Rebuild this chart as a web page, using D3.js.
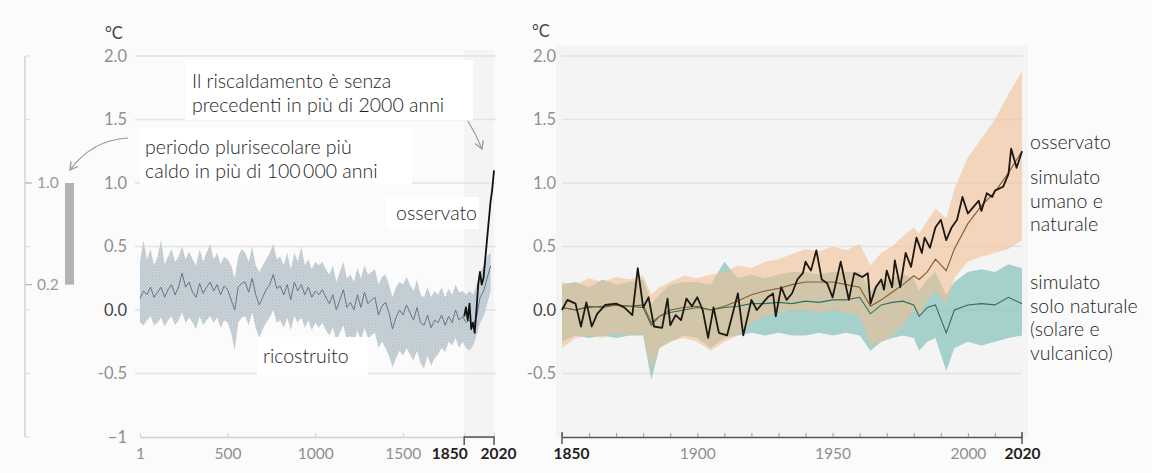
<!DOCTYPE html>
<html>
<head>
<meta charset="utf-8">
<script src="https://cdn.jsdelivr.net/npm/d3@7"></script>
<style>
  body { margin: 0; background: #fbfbfb; }
  text { font-family: Lato, "Open Sans", sans-serif; }
</style>
</head>
<body>
<svg id="chart" width="1152" height="473"></svg>
<script>
// ---- data: left panel (years 1-2020) ----
const reconYears = d3.range(1, 2002, 20);
const recon = [
  0.09, 0.15, 0.12, 0.18, 0.10, 0.14, 0.18, 0.10, 0.16, 0.20,
  0.12, 0.18, 0.29, 0.18, 0.22, 0.14, 0.10, 0.21, 0.13, 0.18,
  0.22, 0.15, 0.20, 0.12, 0.19, 0.16, 0.08, 0.00, 0.18, 0.21,
  0.22, 0.14, 0.25, 0.12, 0.04, 0.10, 0.16, 0.20, 0.28, 0.17,
  0.19, 0.12, 0.20, 0.08, 0.22, 0.15, 0.20, 0.12, 0.18, 0.10,
  0.15, 0.12, 0.16, 0.10, 0.05, 0.12, 0.00, 0.08, 0.16, 0.02,
  0.06, 0.00, 0.12, 0.02, 0.14, 0.05, 0.08, 0.10, -0.04, 0.03,
  0.06, -0.02, -0.15, -0.06, 0.00, -0.04, 0.04, -0.02, -0.08, 0.02,
  -0.10, -0.12, -0.04, -0.14, -0.08, -0.10, -0.04, -0.12, -0.05, -0.10,
  0.00, -0.08, -0.05, -0.10, -0.08, -0.12, -0.05, 0.10, 0.15, 0.25,
  0.35
];
const reconHi = [
  0.38, 0.55, 0.40, 0.48, 0.35, 0.42, 0.55, 0.36, 0.42, 0.48,
  0.38, 0.42, 0.50, 0.40, 0.46, 0.40, 0.35, 0.48, 0.38, 0.45,
  0.52, 0.40, 0.45, 0.36, 0.42, 0.40, 0.35, 0.25, 0.42, 0.48,
  0.45, 0.38, 0.50, 0.35, 0.30, 0.35, 0.40, 0.45, 0.52, 0.40,
  0.42, 0.35, 0.45, 0.32, 0.45, 0.38, 0.50, 0.35, 0.40, 0.32,
  0.38, 0.35, 0.38, 0.32, 0.28, 0.35, 0.22, 0.30, 0.38, 0.25,
  0.28, 0.22, 0.33, 0.25, 0.35, 0.28, 0.30, 0.32, 0.20, 0.26,
  0.28, 0.20, 0.10, 0.18, 0.22, 0.20, 0.26, 0.20, 0.15, 0.24,
  0.12, 0.10, 0.18, 0.10, 0.15, 0.12, 0.18, 0.10, 0.17, 0.12,
  0.20, 0.14, 0.15, 0.12, 0.15, 0.12, 0.20, 0.30, 0.35, 0.42,
  0.45
];
const reconLo = [
  -0.10, -0.12, -0.08, -0.05, -0.12, -0.10, -0.06, -0.13, -0.08, -0.05,
  -0.12, -0.08, -0.02, -0.10, -0.06, -0.10, -0.15, -0.05, -0.12, -0.08,
  -0.05, -0.10, -0.06, -0.14, -0.08, -0.10, -0.18, -0.32, -0.10, -0.06,
  -0.05, -0.12, -0.02, -0.14, -0.22, -0.15, -0.10, -0.06, 0.00, -0.10,
  -0.08, -0.14, -0.06, -0.16, -0.05, -0.10, -0.06, -0.14, -0.08, -0.16,
  -0.10, -0.14, -0.10, -0.16, -0.20, -0.14, -0.24, -0.18, -0.12, -0.24,
  -0.20, -0.26, -0.16, -0.24, -0.14, -0.22, -0.20, -0.18, -0.30, -0.25,
  -0.30, -0.36, -0.45, -0.38, -0.32, -0.36, -0.30, -0.35, -0.40, -0.32,
  -0.42, -0.46, -0.36, -0.44, -0.38, -0.35, -0.30, -0.33, -0.25, -0.28,
  -0.22, -0.30, -0.25, -0.30, -0.32, -0.28, -0.20, -0.10, -0.05, 0.05,
  0.15
];
const obsLYears = [1850, 1860, 1870, 1880, 1890, 1900, 1910, 1920, 1930, 1940, 1950, 1960, 1970, 1980, 1990, 2000, 2010, 2020];
const obsLVals  = [-0.05, 0.02, -0.08, 0.05, -0.15, -0.10, -0.18, 0.00, 0.20, 0.30, 0.20, 0.25, 0.40, 0.55, 0.70, 0.85, 0.95, 1.10];
const leftTicks = [1, 500, 1000, 1500, 1850, 2020];
const yTicks = [-1, -0.5, 0, 0.5, 1, 1.5, 2];
const yLabels = ["\u22121", "-0.5", "0.0", "0.5", "1.0", "1.5", "2.0"];
const barRange = [0.2, 1.0];
const barLabels = ["0.2", "1.0"];

// ---- data: right panel (1850-2020) ----
const obsYears = [1850, 1852, 1855, 1857, 1859, 1861, 1863, 1866, 1870, 1873, 1876, 1878, 1880, 1882, 1884, 1887, 1889, 1890, 1892, 1894,
  1896, 1898, 1900, 1902, 1904, 1906, 1908, 1911, 1915, 1917, 1920, 1922, 1926, 1928, 1929, 1931, 1933, 1935, 1937, 1939,
  1940, 1942, 1944, 1946, 1948, 1950, 1953, 1956, 1958, 1961, 1963, 1964, 1966, 1968, 1969, 1970, 1972, 1973, 1975, 1977,
  1979, 1981, 1983, 1984, 1986, 1988, 1990, 1992, 1994, 1996, 1998, 2000, 2002, 2004, 2005, 2007, 2009, 2010, 2013, 2015,
  2016, 2018, 2020];
const obsVals = [0.00, 0.08, 0.05, -0.13, 0.06, -0.13, -0.03, 0.04, 0.05, 0.02, -0.04, 0.33, 0.02, 0.10, -0.13, -0.14, 0.09, -0.12, -0.04, -0.08,
  0.09, 0.03, 0.10, 0.00, -0.22, 0.02, -0.18, -0.20, 0.13, -0.20, 0.08, 0.00, 0.10, 0.13, -0.05, 0.18, 0.08, 0.13, 0.24, 0.29,
  0.38, 0.31, 0.47, 0.24, 0.21, 0.10, 0.38, 0.08, 0.29, 0.26, 0.29, 0.05, 0.18, 0.24, 0.16, 0.31, 0.18, 0.39, 0.18, 0.45,
  0.34, 0.57, 0.45, 0.57, 0.49, 0.65, 0.71, 0.55, 0.65, 0.71, 0.89, 0.76, 0.81, 0.86, 0.78, 0.92, 0.89, 0.94, 0.97, 1.07,
  1.27, 1.12, 1.25];
const bandYears = [1850, 1855, 1860, 1865, 1870, 1875, 1880, 1883, 1886,
  1890, 1895, 1900, 1905, 1910, 1915, 1920, 1925, 1930, 1935, 1940, 1945, 1950, 1955, 1960,
  1964, 1968, 1972, 1976, 1980, 1982, 1985, 1988, 1992, 1995,
  2000, 2005, 2010, 2015, 2020];
const hnUpper = [0.22, 0.20, 0.25, 0.22, 0.26, 0.24, 0.27, 0.12, 0.18,
  0.22, 0.27, 0.25, 0.28, 0.30, 0.35, 0.33, 0.38, 0.40, 0.44, 0.48, 0.46, 0.50, 0.47, 0.52,
  0.35, 0.45, 0.50, 0.58, 0.65, 0.60, 0.70, 0.80, 0.72, 0.95,
  1.20, 1.35, 1.50, 1.70, 1.88];
const hnLower = [-0.30, -0.22, -0.20, -0.22, -0.18, -0.20, -0.18, -0.45, -0.30,
  -0.25, -0.22, -0.25, -0.32, -0.25, -0.20, -0.10, -0.05, -0.02, 0.00, 0.00, -0.02, 0.00, -0.02, -0.05,
  -0.28, -0.25, -0.20, -0.12, 0.00, -0.05, 0.08, 0.15, 0.05, 0.25,
  0.38, 0.42, 0.45, 0.48, 0.55];
const natUpper = [0.20, 0.22, 0.18, 0.24, 0.20, 0.22, 0.24, 0.05, 0.12,
  0.20, 0.22, 0.22, 0.20, 0.38, 0.25, 0.28, 0.25, 0.28, 0.30, 0.30, 0.28, 0.30, 0.30, 0.30,
  0.15, 0.22, 0.25, 0.28, 0.25, 0.15, 0.24, 0.30, 0.12, 0.22,
  0.30, 0.32, 0.30, 0.36, 0.33];
const natLower = [-0.25, -0.20, -0.22, -0.20, -0.22, -0.20, -0.20, -0.55, -0.30,
  -0.25, -0.20, -0.22, -0.30, -0.22, -0.20, -0.18, -0.20, -0.18, -0.20, -0.20, -0.18, -0.20, -0.18, -0.20,
  -0.32, -0.25, -0.22, -0.20, -0.22, -0.32, -0.25, -0.22, -0.48, -0.30,
  -0.25, -0.28, -0.25, -0.22, -0.20];
const hnLine = [0.02, 0.00, 0.03, 0.02, 0.04, 0.03, 0.04, -0.10, -0.05,
  0.00, 0.02, 0.03, 0.00, 0.03, 0.07, 0.12, 0.15, 0.17, 0.20, 0.22, 0.22, 0.22, 0.20, 0.18,
  0.03, 0.08, 0.14, 0.20, 0.27, 0.24, 0.30, 0.40, 0.31, 0.48,
  0.68, 0.82, 0.93, 1.08, 1.25];
const natLine = [0.02, 0.00, 0.02, 0.03, 0.04, 0.03, 0.02, -0.12, -0.05,
  -0.02, 0.00, 0.02, 0.00, 0.02, 0.03, 0.05, 0.05, 0.06, 0.05, 0.07, 0.06, 0.08, 0.08, 0.10,
  -0.03, 0.04, 0.06, 0.07, 0.04, -0.05, 0.02, 0.04, -0.18, 0.00,
  0.04, 0.05, 0.04, 0.10, 0.05];
const rightTicks = d3.range(1850, 2021, 10);
const rightLabelled = [1850, 1900, 1950, 2000, 2020];

const svg = d3.select("#chart");
const y = d3.scaleLinear().domain([-1, 2]).range([437, 56]);
const xL = d3.scaleLinear().domain([1, 2020]).range([140, 494]);
const xR = d3.scaleLinear().domain([1850, 2020]).range([562, 1022]);

const defs = svg.append("defs");
const pat = defs.append("pattern").attr("id", "hatch")
  .attr("width", 3).attr("height", 3).attr("patternUnits", "userSpaceOnUse");
pat.append("rect").attr("width", 3).attr("height", 3).attr("fill", "#ccd6dc");
pat.append("path").attr("d", "M0,0L3,3M3,0L0,3").attr("stroke", "#b4bec4").attr("stroke-width", 0.6);
defs.append("marker").attr("id", "arrow")
  .attr("viewBox", "0 0 10 10").attr("refX", 8).attr("refY", 5)
  .attr("markerWidth", 9).attr("markerHeight", 9).attr("orient", "auto")
  .append("path").attr("d", "M1,1L8,5L1,9").attr("fill", "none")
  .attr("stroke", "#999").attr("stroke-width", 1.2);

// backgrounds
svg.append("rect").attr("x", 556).attr("y", 46).attr("width", 472).attr("height", 392).attr("fill", "#f4f4f4");
svg.append("rect").attr("x", xL(1850)).attr("y", 50)
  .attr("width", xL(2020) - xL(1850)).attr("height", y(-1) - 50).attr("fill", "#f4f4f4");

// gridlines
const gridTicks = yTicks.filter(d => d > -1);
svg.append("g").selectAll("line").data(gridTicks).join("line")
  .attr("x1", 135).attr("x2", 496).attr("y1", d => y(d)).attr("y2", d => y(d))
  .attr("stroke", "#e3e3e3").attr("stroke-width", 1.5);
svg.append("g").selectAll("line").data(gridTicks).join("line")
  .attr("x1", xR(1850)).attr("x2", xR(2020)).attr("y1", d => y(d)).attr("y2", d => y(d))
  .attr("stroke", "#e3e3e3").attr("stroke-width", 1.5);

// y labels
function yLabelGroup(xPos, ticks) {
  svg.append("g").selectAll("text").data(ticks).join("text")
    .attr("x", xPos).attr("y", d => y(d)).attr("dy", "0.35em")
    .attr("text-anchor", "end").attr("font-size", 16.5)
    .attr("fill", d => d === 0 ? "#444" : "#8f8f8f")
    .text(d => yLabels[yTicks.indexOf(d)]);
}
yLabelGroup(127, yTicks);
yLabelGroup(556, yTicks.filter(d => d > -1));
svg.append("text").attr("x", 105).attr("y", 39).attr("font-size", 16.5).attr("fill", "#444").text("\u00b0C");
svg.append("text").attr("x", 532).attr("y", 37).attr("font-size", 16.5).attr("fill", "#444").text("\u00b0C");

// ---- far-left bar ----
svg.append("line").attr("x1", 25).attr("x2", 25).attr("y1", y(2)).attr("y2", y(-1))
  .attr("stroke", "#d2d2d2").attr("stroke-width", 1.5);
svg.append("g").selectAll("line").data(yTicks).join("line")
  .attr("x1", 25).attr("x2", 30).attr("y1", d => y(d)).attr("y2", d => y(d))
  .attr("stroke", "#dedede").attr("stroke-width", 1.2);
svg.append("g").selectAll("line").data(barRange).join("line")
  .attr("x1", 25).attr("x2", 32).attr("y1", d => y(d)).attr("y2", d => y(d))
  .attr("stroke", "#b8b8b8").attr("stroke-width", 1.2);
svg.append("g").selectAll("text").data(barRange).join("text")
  .attr("x", 37).attr("y", d => y(d)).attr("dy", "0.35em").attr("font-size", 15.5)
  .attr("fill", "#9a9a9a").text((d, i) => barLabels[i]);
svg.append("rect").attr("x", 65).attr("width", 9)
  .attr("y", y(barRange[1])).attr("height", y(barRange[0]) - y(barRange[1])).attr("fill", "#b3b3b3");

// ---- left panel series ----
const reconRows = reconYears.map((yr, i) => ({ yr, v: recon[i], hi: reconHi[i], lo: reconLo[i] }));
svg.append("path").datum(reconRows)
  .attr("d", d3.area().x(d => xL(d.yr)).y0(d => y(d.lo)).y1(d => y(d.hi)))
  .attr("fill", "url(#hatch)");
svg.append("path").datum(reconRows)
  .attr("d", d3.line().x(d => xL(d.yr)).y(d => y(d.v)))
  .attr("fill", "none").attr("stroke", "#62778a").attr("stroke-width", 1);
svg.append("path").datum(obsLYears.map((yr, i) => [yr, obsLVals[i]]))
  .attr("d", d3.line().x(d => xL(d[0])).y(d => y(d[1])))
  .attr("fill", "none").attr("stroke", "#111").attr("stroke-width", 1.8).attr("stroke-linejoin", "round");

// left x axis
const axL = svg.append("g").attr("transform", `translate(0,${y(-1)})`)
  .call(d3.axisBottom(xL).tickValues(leftTicks).tickSizeInner(-4).tickSizeOuter(0).tickPadding(11).tickFormat(d => d));
axL.select(".domain").attr("stroke", "#d0d0d0").attr("stroke-width", 1.5);
axL.selectAll(".tick line").attr("stroke", "#d0d0d0");
axL.selectAll(".tick text").attr("font-family", "Lato, sans-serif").attr("font-size", 15.5)
  .attr("fill", d => d >= 1850 ? "#222" : "#8f8f8f")
  .attr("font-weight", d => d >= 1850 ? "bold" : "normal");
axL.selectAll(".tick").filter(d => d === 1850).select("text").attr("text-anchor", "end").attr("x", 3);
axL.selectAll(".tick").filter(d => d === 2020).select("text").attr("x", 4);
svg.append("path")
  .attr("d", `M${xL(1850)},${y(-1) + 8}V${y(-1)}H${xL(2020)}V${y(-1) + 8}`)
  .attr("fill", "none").attr("stroke", "#555").attr("stroke-width", 1.5);

// ---- right panel series ----
const bandRows = bandYears.map((yr, i) => ({
  yr, hnU: hnUpper[i], hnL: hnLower[i], nU: natUpper[i], nL: natLower[i], hn: hnLine[i], nat: natLine[i]
}));
svg.append("path").datum(bandRows)
  .attr("d", d3.area().x(d => xR(d.yr)).y0(d => y(d.nL)).y1(d => y(d.nU)))
  .attr("fill", "#86c2bd").attr("fill-opacity", 0.72);
svg.append("path").datum(bandRows)
  .attr("d", d3.area().x(d => xR(d.yr)).y0(d => y(d.hnL)).y1(d => y(d.hnU)))
  .attr("fill", "#f0bf93").attr("fill-opacity", 0.6);
svg.append("path").datum(bandRows)
  .attr("d", d3.line().x(d => xR(d.yr)).y(d => y(d.nat)))
  .attr("fill", "none").attr("stroke", "#2f6f5f").attr("stroke-width", 1.1);
svg.append("path").datum(bandRows)
  .attr("d", d3.line().x(d => xR(d.yr)).y(d => y(d.hn)))
  .attr("fill", "none").attr("stroke", "#8a5a2e").attr("stroke-width", 1.1);
svg.append("path").datum(obsYears.map((yr, i) => [yr, obsVals[i]]))
  .attr("d", d3.line().x(d => xR(d[0])).y(d => y(d[1])))
  .attr("fill", "none").attr("stroke", "#1d1812").attr("stroke-width", 1.8).attr("stroke-linejoin", "round");

// right x axis
const axR = svg.append("g").attr("transform", `translate(0,${y(-1)})`)
  .call(d3.axisBottom(xR).tickValues(rightTicks).tickSizeInner(-4).tickSizeOuter(0).tickPadding(11)
    .tickFormat(d => rightLabelled.includes(d) ? d : ""));
axR.select(".domain").attr("stroke", "#555").attr("stroke-width", 1.5);
axR.selectAll(".tick line").attr("stroke", "#999");
axR.selectAll(".tick text").attr("font-family", "Lato, sans-serif").attr("font-size", 15.5)
  .attr("fill", d => (d === 1850 || d === 2020) ? "#222" : "#8f8f8f")
  .attr("font-weight", d => (d === 1850 || d === 2020) ? "bold" : "normal");
axR.selectAll(".tick").filter(d => d === 1850).select("text").attr("x", 9);
svg.append("g").selectAll("line").data([1850, 2020]).join("line")
  .attr("x1", d => xR(d)).attr("x2", d => xR(d)).attr("y1", y(-1) - 5).attr("y2", y(-1) + 7)
  .attr("stroke", "#555").attr("stroke-width", 1.5);

// ---- annotations ----
function box(x, yy, w, h) {
  svg.append("rect").attr("x", x).attr("y", yy).attr("width", w).attr("height", h).attr("fill", "#fff");
}
function lines(x, yy, arr, anchor) {
  const t = svg.append("text").attr("x", x).attr("y", yy).attr("font-size", 19.5).attr("font-weight", 300)
    .attr("fill", "#1e1e1e").attr("text-anchor", anchor || "start");
  arr.forEach((s, i) => t.append("tspan").attr("x", x).attr("dy", i ? 23.5 : 0).text(s));
}
box(185, 60, 288, 60);
lines(192, 88, ["Il riscaldamento \u00e8 senza", "precedenti in pi\u00f9 di 2000 anni"]);
box(140, 128, 272, 56);
lines(145, 154, ["periodo plurisecolare pi\u00f9", "caldo in pi\u00f9 di 100\u2009000 anni"]);
box(387, 197, 92, 32);
lines(477, 220, ["osservato"], "end");
box(257, 337, 111, 38);
lines(263, 363, ["ricostruito"]);

svg.append("path").attr("d", "M128,138 Q92,140 70,170")
  .attr("fill", "none").attr("stroke", "#999").attr("stroke-width", 1.2).attr("marker-end", "url(#arrow)");
svg.append("path").attr("d", "M468,121 Q476,134 482,149")
  .attr("fill", "none").attr("stroke", "#999").attr("stroke-width", 1.2).attr("marker-end", "url(#arrow)");

lines(1030, 149, ["osservato"]);
lines(1030, 184, ["simulato", "umano e", "naturale"]);
lines(1030, 289, ["simulato", "solo naturale", "(solare e", "vulcanico)"]);
</script>
</body>
</html>
